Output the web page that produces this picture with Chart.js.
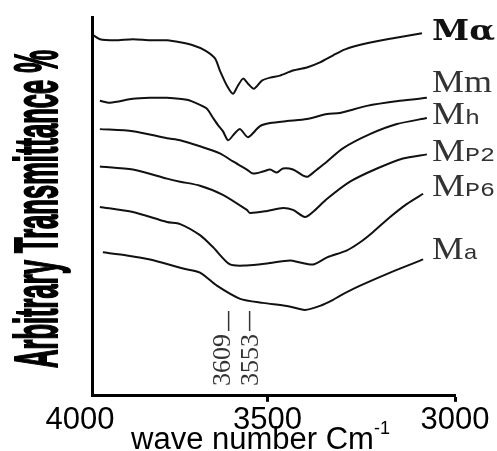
<!DOCTYPE html>
<html>
<head>
<meta charset="utf-8">
<script src="https://cdn.jsdelivr.net/npm/chart.js@4.4.1/dist/chart.umd.min.js"></script>
<style>
  html, body { margin: 0; padding: 0; background: #fff; }
</style>
</head>
<body>
<canvas id="chart" width="497" height="451"></canvas>
<script>
// FTIR spectra (wavenumber cm-1 / arbitrary transmittance)
const wnMalpha = [3965, 3947, 3907, 3859, 3813, 3768, 3733, 3699, 3667, 3640, 3627, 3608, 3592, 3579, 3565, 3552, 3536, 3515, 3493, 3467, 3432, 3395, 3360, 3325, 3293, 3235, 3165, 3088];
const tMalpha = [71.4, 70.6, 70.4, 70.6, 70.4, 70.4, 70.0, 69.4, 68.4, 66.8, 64.4, 61.4, 59.8, 61.4, 62.8, 61.8, 60.8, 62.4, 63.0, 63.4, 64.4, 65.0, 66.0, 67.4, 68.6, 69.8, 70.8, 71.8];

const wnMm = [3947, 3920, 3859, 3813, 3768, 3715, 3680, 3661, 3645, 3632, 3619, 3605, 3587, 3573, 3552, 3520, 3493, 3448, 3395, 3341, 3307, 3235, 3147, 3075];
const tMm = [58.4, 58.0, 58.8, 59.0, 59.0, 58.6, 57.6, 56.8, 55.0, 53.6, 52.4, 50.6, 52.0, 52.8, 51.2, 53.4, 54.0, 54.4, 54.8, 55.8, 56.0, 57.4, 58.4, 59.0];

const wnMh = [3947, 3859, 3768, 3733, 3680, 3627, 3592, 3555, 3539, 3512, 3493, 3475, 3459, 3432, 3405, 3392, 3368, 3341, 3299, 3227, 3155, 3075];
const tMh = [52.8, 52.4, 51.0, 50.6, 49.4, 48.0, 46.4, 44.8, 44.0, 44.4, 44.8, 44.2, 45.0, 44.8, 43.6, 43.4, 44.8, 46.4, 49.0, 51.8, 53.8, 55.0];

const wnMp2 = [3947, 3859, 3768, 3733, 3680, 3619, 3555, 3547, 3501, 3459, 3432, 3400, 3379, 3341, 3280, 3208, 3139, 3075];
const tMp2 = [45.4, 44.8, 43.0, 42.4, 41.6, 39.8, 36.8, 36.2, 36.6, 37.2, 36.8, 35.4, 36.4, 39.0, 42.4, 45.0, 47.0, 47.8];

const wnMp6 = [3947, 3859, 3768, 3733, 3680, 3645, 3600, 3555, 3501, 3440, 3413, 3379, 3341, 3288, 3253, 3219, 3173, 3128, 3085];
const tMp6 = [37.4, 36.4, 34.4, 34.0, 31.8, 29.4, 26.0, 25.8, 26.2, 26.8, 26.4, 26.0, 27.4, 28.8, 30.4, 32.4, 35.4, 38.0, 40.0];

const wnMa = [3939, 3875, 3813, 3725, 3680, 3635, 3573, 3512, 3448, 3400, 3360, 3325, 3307, 3253, 3173, 3085];
const tMa = [28.4, 27.8, 27.0, 25.2, 24.4, 21.8, 19.2, 18.4, 17.8, 17.0, 17.8, 19.0, 19.8, 21.8, 24.4, 27.0];

// series labels (main letter + small suffix)
const labelMain = ['Mα', 'Mm', 'M', 'M', 'M', 'M'];
const labelSub = ['', '', 'h', 'P2', 'P6', 'a'];

const xTicks = [4000, 3500, 3000];
const peakMarks = [3609, 3553];

const wnList = [wnMalpha, wnMm, wnMh, wnMp2, wnMp6, wnMa];
const tList = [tMalpha, tMm, tMh, tMp2, tMp6, tMa];

// label look: baseline offset from line end, target width
const labelStyle = [
  { dy: 7, width: 63, bold: true },
  { dy: -6, width: 60 },
  { dy: 6, width: 48 },
  { dy: 7, width: 63 },
  { dy: 2, width: 63 },
  { dy: 0, width: 46 }
];
const peakShift = [-3, 4];

const annotations = {
  id: 'annotations',
  afterDraw(chart) {
    const { ctx, chartArea, scales } = chart;
    const xs = scales.x, ys = scales.y;

    // y axis title, bold condensed
    ctx.save();
    ctx.fillStyle = '#000';
    ctx.strokeStyle = '#000';
    ctx.translate(57, 209);
    ctx.rotate(-Math.PI / 2);
    ctx.font = 'bold 61px "Liberation Sans"';
    const yTitle = 'Arbitrary Transmittance %';
    const w = ctx.measureText(yTitle).width;
    ctx.scale(318 / w, 1);
    ctx.textAlign = 'center';
    ctx.textBaseline = 'alphabetic';
    ctx.fillText(yTitle, 0, 0);
    ctx.lineWidth = 2;
    ctx.strokeText(yTitle, 0, 0);
    ctx.restore();

    // x axis title with superscript
    ctx.save();
    ctx.fillStyle = '#000';
    ctx.textBaseline = 'alphabetic';
    ctx.font = '31px "Liberation Sans"';
    const xt = 'wave number Cm';
    ctx.fillText(xt, 131, 449);
    const xw = ctx.measureText(xt).width;
    ctx.font = '18px "Liberation Sans"';
    ctx.fillText('-1', 131 + xw, 434);
    ctx.restore();

    // peak marks
    ctx.save();
    ctx.strokeStyle = '#333';
    ctx.fillStyle = '#333';
    ctx.lineWidth = 1.5;
    peakMarks.forEach((p, i) => {
      const px = xs.getPixelForValue(p);
      ctx.beginPath();
      ctx.moveTo(px + 2, 311);
      ctx.lineTo(px + 2, 331);
      ctx.stroke();
      ctx.save();
      ctx.translate(px + peakShift[i], 360);
      ctx.rotate(-Math.PI / 2);
      ctx.font = '26px "Liberation Serif"';
      ctx.textAlign = 'center';
      ctx.textBaseline = 'middle';
      ctx.fillText(String(p), 0, 0);
      ctx.restore();
    });
    ctx.restore();

    // series labels at the right
    const lx = chartArea.right - 23;
    labelMain.forEach((main, i) => {
      const st = labelStyle[i];
      const last = wnList[i].length - 1;
      const by = ys.getPixelForValue(tList[i][last]) + st.dy;
      ctx.save();
      ctx.textBaseline = 'alphabetic';
      ctx.fillStyle = st.bold ? '#111' : '#333';
      const mainFont = st.bold ? 'bold 27px "DejaVu Serif"' : '31px "Liberation Serif"';
      const subFont = '21px "Liberation Mono"';
      ctx.font = mainFont;
      const w1 = ctx.measureText(main).width;
      ctx.font = subFont;
      const w2 = labelSub[i] ? ctx.measureText(labelSub[i]).width : 0;
      ctx.translate(lx, by);
      ctx.scale(st.width / (w1 + w2), 1);
      ctx.font = mainFont;
      ctx.fillText(main, 0, 0);
      if (labelSub[i]) {
        ctx.font = subFont;
        ctx.fillText(labelSub[i], w1, 0);
      }
      ctx.restore();
    });
  }
};

const datasets = wnList.map((wn, i) => ({
  label: labelMain[i] + labelSub[i],
  data: wn.map((v, j) => ({ x: v, y: tList[i][j] })),
  borderColor: '#111',
  borderWidth: 2,
  pointRadius: 0,
  tension: 0.25,
  fill: false
}));

const ctx = document.getElementById('chart').getContext('2d');
new Chart(ctx, {
  type: 'line',
  data: { datasets },
  options: {
    responsive: false,
    animation: false,
    layout: { padding: { left: 92, right: 42, top: 17, bottom: 12 } },
    plugins: {
      legend: { display: false },
      tooltip: { enabled: false }
    },
    scales: {
      x: {
        type: 'linear',
        reverse: true,
        min: 3000,
        max: 3968,
        afterBuildTicks: scale => {
          scale.ticks = xTicks.map(v => ({ value: v }));
        },
        ticks: {
          autoSkip: false,
          maxRotation: 0,
          padding: 0,
          color: '#000',
          font: { family: 'Liberation Sans', size: 31 },
          callback: v => String(v)
        },
        grid: {
          drawOnChartArea: false,
          tickLength: 6,
          tickWidth: 3,
          tickColor: c => (c.tick && c.tick.value === 4000) ? 'rgba(0,0,0,0)' : '#000'
        },
        border: { color: '#000', width: 3 }
      },
      y: {
        min: 0,
        max: 75,
        ticks: { display: false },
        grid: { display: false, drawTicks: false },
        border: { color: '#000', width: 3 }
      }
    }
  },
  plugins: [annotations]
});
</script>
</body>
</html>
